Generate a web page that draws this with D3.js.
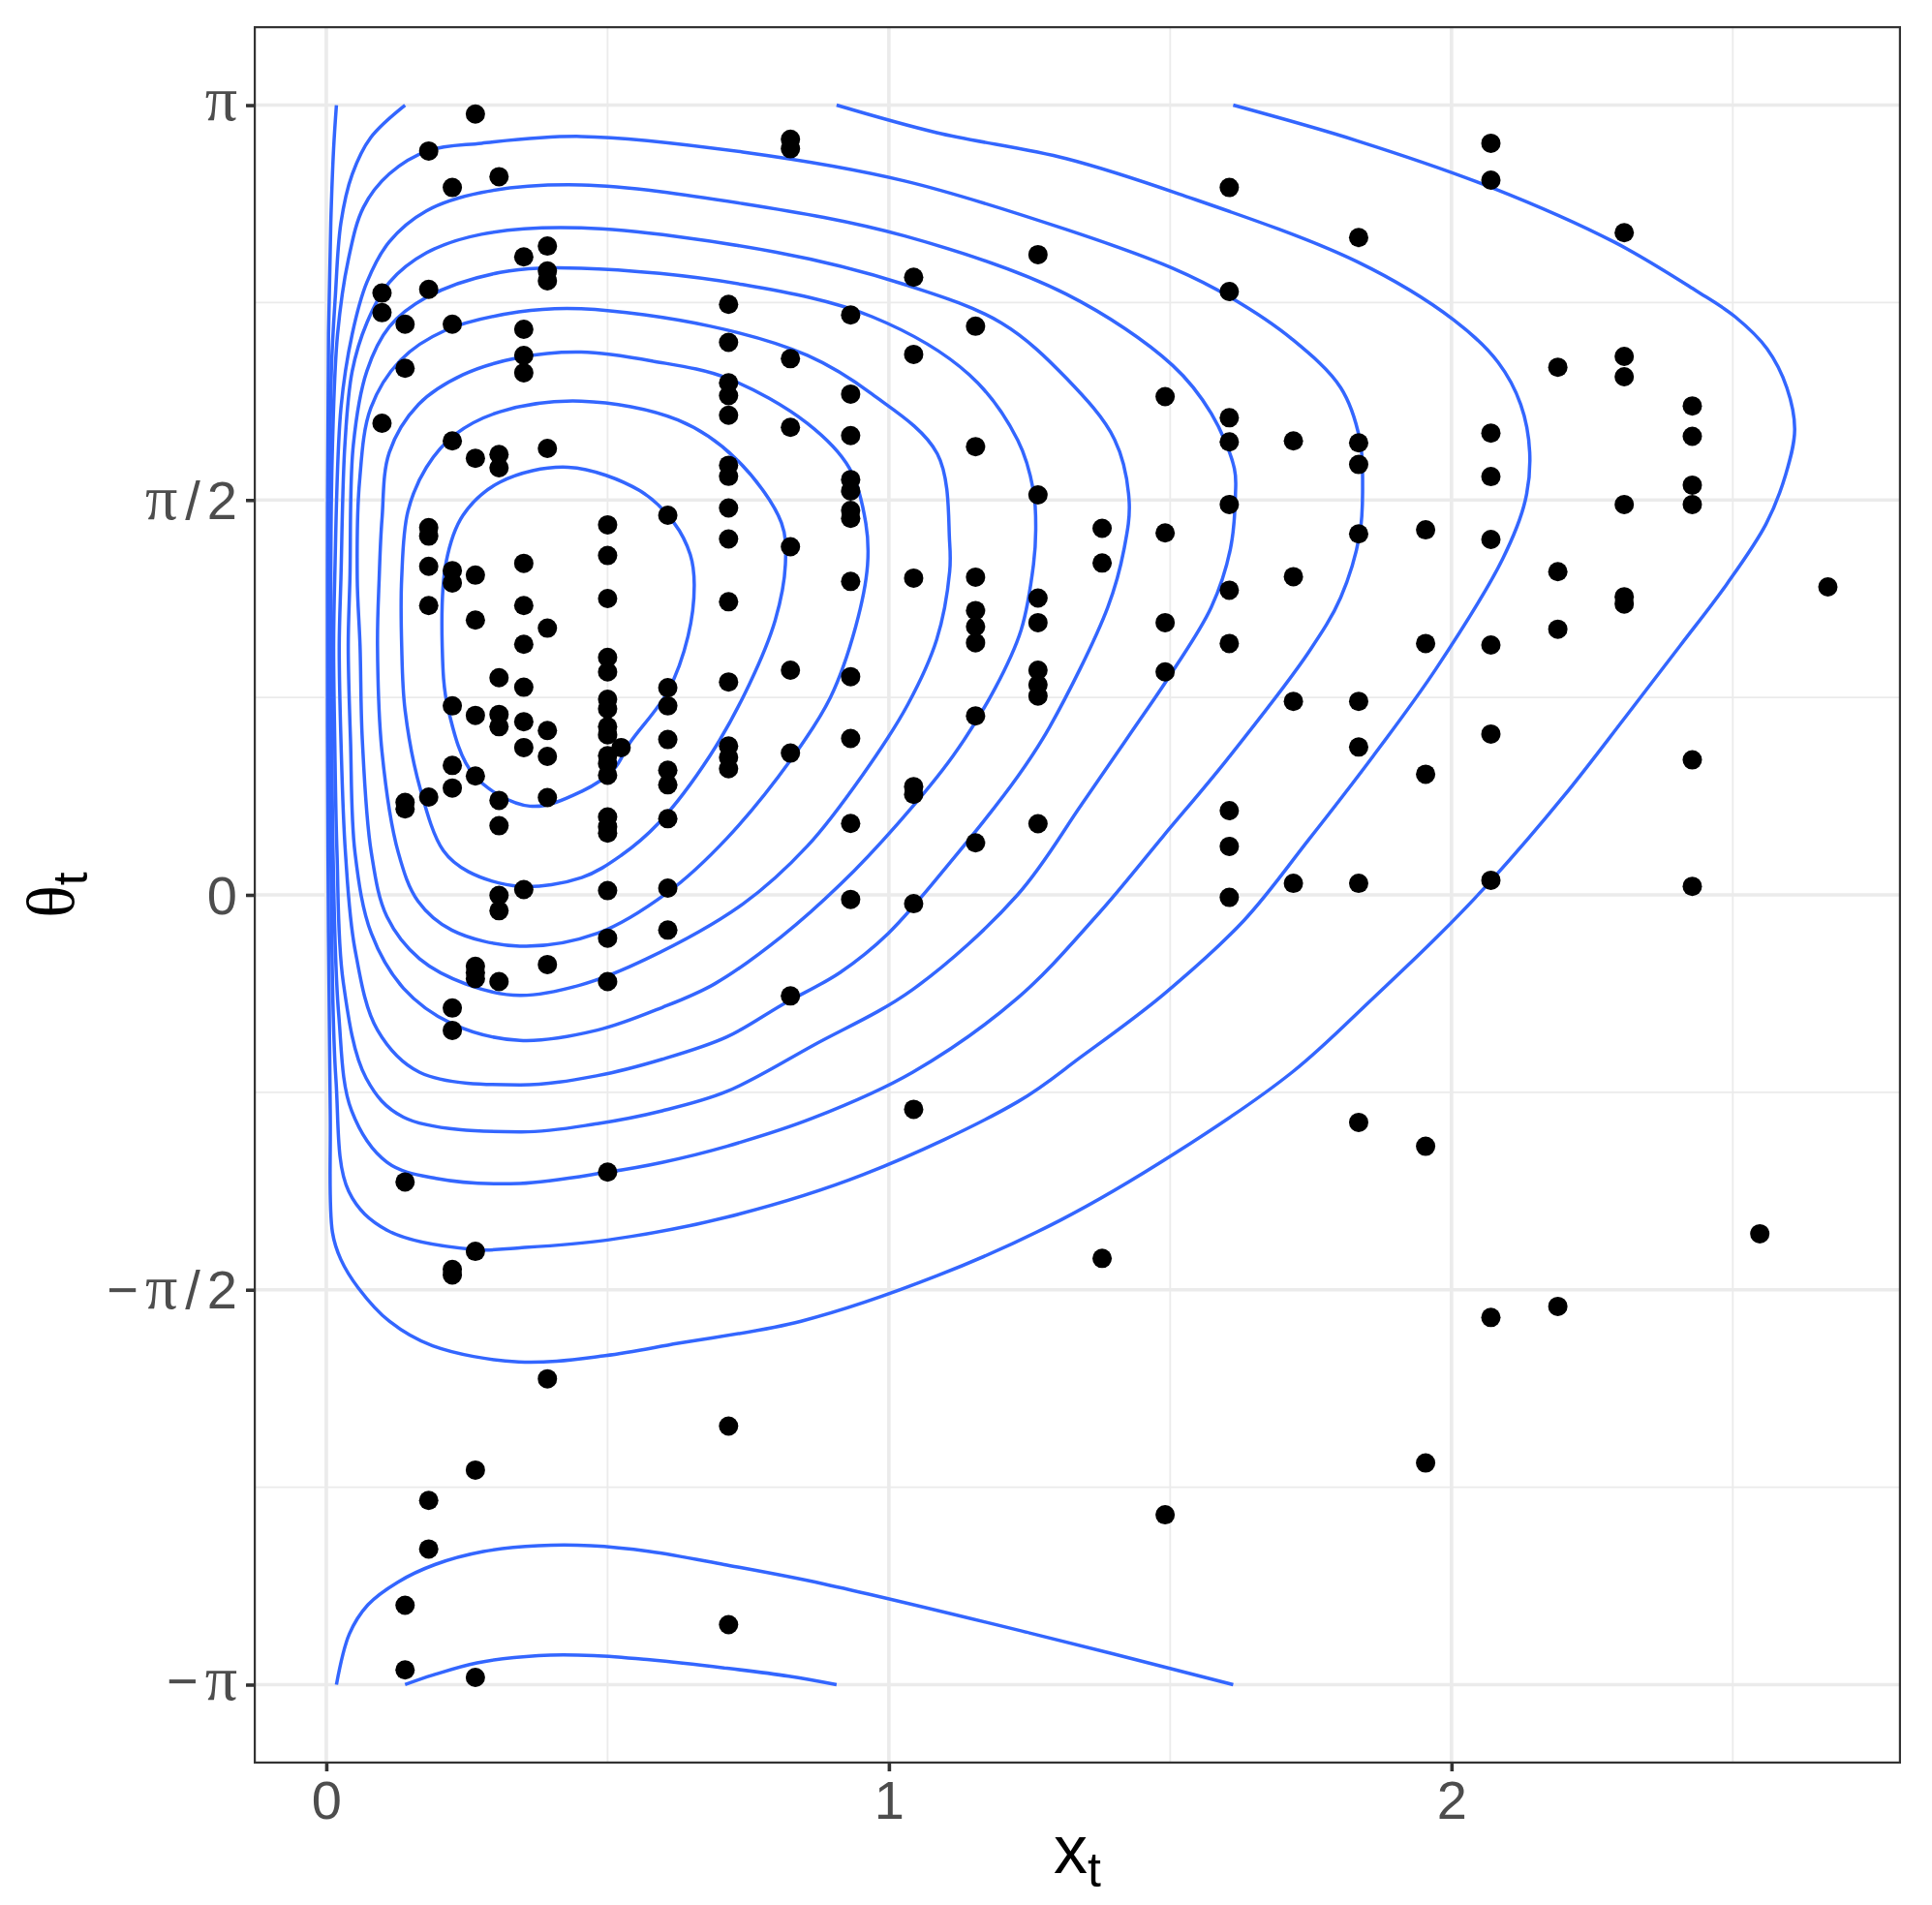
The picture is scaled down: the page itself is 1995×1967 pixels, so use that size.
<!DOCTYPE html>
<html>
<head>
<meta charset="utf-8">
<script src="https://cdn.jsdelivr.net/npm/d3@7"></script>
<style>
  body { margin: 0; background: #ffffff; }
</style>
</head>
<body>
<div id="chart"></div>
<script>
// observed states: one x value per column, theta values (radians) in that column
var pointX = [0.099, 0.140, 0.182, 0.224, 0.265, 0.307, 0.351, 0.393, 0.500, 0.524,
              0.607, 0.715, 0.825, 0.932, 1.044, 1.154, 1.265, 1.379, 1.491, 1.605,
              1.719, 1.835, 1.954, 2.070, 2.189, 2.307, 2.428, 2.548, 2.669];
var pointTheta = [
  [2.394, 2.316, 1.876],
  [2.270, 2.095, 0.368, 0.342, -1.142, -2.826, -3.083],
  [2.959, 2.409, 1.461, 1.427, 1.307, 1.151, 0.389, -2.409, -2.602],
  [2.814, 2.270, 1.806, 1.290, 1.241, 0.752, 0.515, 0.425, -0.450, -0.539, -1.490, -1.512],
  [3.106, 1.737, 1.272, 1.093, 0.714, 0.473, -0.284, -0.309, -0.333, -1.418, -2.288, -3.113],
  [2.857, 1.752, 1.699, 0.864, 0.718, 0.669, 0.376, 0.275, -0.002, -0.063, -0.345],
  [2.538, 2.250, 2.146, 2.077, 1.319, 1.151, 0.997, 0.826, 0.689, 0.586, 0.021],
  [2.581, 2.482, 2.443, 1.776, 1.061, 0.654, 0.551, 0.387, -0.277, -1.925],
  [1.472, 1.350, 1.179, 0.945, 0.887, 0.778, 0.740, 0.669, 0.637, 0.554, 0.522, 0.476,
   0.310, 0.271, 0.246, 0.017, -0.172, -0.345, -1.103],
  [0.586],
  [1.510, 0.824, 0.752, 0.618, 0.496, 0.438, 0.303, 0.027, -0.140],
  [2.349, 2.198, 2.037, 1.986, 1.908, 1.709, 1.665, 1.539, 1.416, 1.166, 0.847, 0.592,
   0.547, 0.502, -2.113, -2.903],
  [3.006, 2.968, 2.133, 1.860, 1.385, 0.894, 0.564, -0.402],
  [2.307, 1.992, 1.827, 1.652, 1.607, 1.529, 1.498, 1.247, 0.868, 0.622, 0.284, -0.018],
  [2.457, 2.150, 1.260, 0.431, 0.400, -0.035, -0.853],
  [2.262, 1.783, 1.264, 1.131, 1.067, 1.003, 0.712, 0.207],
  [2.547, 1.591, 1.181, 1.083, 0.894, 0.836, 0.791, 0.283],
  [1.458, 1.320, -1.446],
  [1.982, 1.440, 1.083, 0.887, -2.466],
  [2.814, 2.400, 1.898, 1.802, 1.553, 1.212, 1.000, 0.335, 0.193, -0.010],
  [1.806, 1.266, 0.770, 0.046],
  [2.615, 1.798, 1.712, 1.436, 0.770, 0.588, 0.046, -0.905],
  [1.452, 1.000, 0.480, -1.000, -2.260],
  [2.990, 2.843, 1.837, 1.664, 1.414, 0.994, 0.640, 0.058, -1.681],
  [2.099, 1.286, 1.057, -1.637],
  [2.634, 2.142, 2.061, 1.553, 1.186, 1.157],
  [1.945, 1.824, 1.630, 1.553, 0.537, 0.034],
  [-1.348],
  [1.225]
];

// closed level curves, innermost first  [x, theta]
var loop1 = [[0.430,1.701],[0.557,1.608],[0.618,1.480],[0.647,1.353],[0.654,1.235],[0.643,1.029],
  [0.607,0.809],[0.539,0.603],[0.511,0.500],[0.454,0.412],[0.362,0.353],[0.263,0.475],[0.217,0.735],
  [0.206,0.990],[0.213,1.324],[0.243,1.510],[0.309,1.642]];
var loop2 = [[0.453,1.964],[0.625,1.889],[0.728,1.735],[0.809,1.480],[0.816,1.314],[0.798,1.093],
  [0.752,0.838],[0.682,0.554],[0.590,0.284],[0.524,0.157],[0.454,0.069],[0.344,0.034],[0.252,0.093],
  [0.208,0.176],[0.167,0.422],[0.140,0.735],[0.134,0.990],[0.134,1.260],[0.145,1.525],[0.178,1.701],
  [0.230,1.833],[0.309,1.922]];
var loop3 = [[0.453,2.159],[0.581,2.123],[0.712,2.056],[0.855,1.876],[0.930,1.697],[0.959,1.478],
  [0.962,1.311],[0.941,1.067],[0.896,0.785],[0.827,0.541],[0.712,0.225],[0.607,0.010],[0.482,-0.153],
  [0.344,-0.204],[0.223,-0.140],[0.163,-0.025],[0.128,0.168],[0.099,0.569],[0.091,0.990],[0.094,1.260],
  [0.099,1.495],[0.112,1.760],[0.164,1.951],[0.243,2.069],[0.342,2.137]];
var loop4 = [[0.453,2.332],[0.683,2.262],[0.855,2.146],[0.970,1.992],[1.086,1.755],[1.108,1.401],
  [1.108,1.286],[1.085,1.016],[1.034,0.759],[0.953,0.476],[0.855,0.194],[0.740,-0.037],[0.568,-0.256],
  [0.453,-0.358],[0.344,-0.400],[0.252,-0.358],[0.166,-0.255],[0.108,-0.088],[0.080,0.168],[0.064,0.618],
  [0.060,0.990],[0.055,1.260],[0.059,1.642],[0.079,1.936],[0.132,2.127],[0.211,2.245],[0.342,2.319]];
var loop5 = [[0.453,2.493],[0.740,2.428],[0.970,2.300],[1.143,2.069],[1.229,1.809],[1.257,1.607],
  [1.261,1.451],[1.257,1.314],[1.235,1.054],[1.189,0.823],[1.114,0.553],[1.016,0.284],[0.913,0.040],
  [0.809,-0.166],[0.691,-0.353],[0.597,-0.448],[0.482,-0.538],[0.344,-0.579],[0.223,-0.512],
  [0.137,-0.371],[0.080,-0.153],[0.051,0.168],[0.043,0.618],[0.039,0.990],[0.042,1.260],[0.048,1.789],
  [0.072,2.083],[0.112,2.260],[0.178,2.377],[0.309,2.476]];
var loop6 = [[0.453,2.653],[0.798,2.557],[1.028,2.428],[1.200,2.275],[1.315,2.056],[1.401,1.812],
  [1.427,1.568],[1.418,1.376],[1.389,1.144],[1.286,0.669],[1.229,0.471],[1.114,0.143],
  [0.999,-0.153],[0.913,-0.309],[0.811,-0.436],[0.712,-0.565],[0.597,-0.654],[0.482,-0.719],
  [0.344,-0.756],[0.166,-0.706],[0.091,-0.538],[0.051,-0.217],[0.034,0.168],[0.026,0.618],[0.023,0.990],
  [0.026,1.260],[0.033,1.789],[0.046,2.083],[0.072,2.275],[0.112,2.436],[0.178,2.554],[0.276,2.628]];
var loop7 = [[0.453,2.824],[0.740,2.750],[1.028,2.621],[1.315,2.390],[1.504,2.107],[1.573,1.915],
  [1.614,1.697],[1.616,1.594],[1.607,1.376],[1.573,1.144],[1.504,0.888],[1.430,0.644],[1.343,0.361],
  [1.229,0.001],[1.042,-0.377],[0.866,-0.598],[0.712,-0.782],[0.597,-0.859],[0.482,-0.910],
  [0.344,-0.943],[0.137,-0.884],[0.071,-0.730],[0.030,-0.345],[0.019,0.168],[0.015,0.618],[0.013,0.990],
  [0.015,1.260],[0.026,1.936],[0.046,2.230],[0.072,2.436],[0.112,2.598],[0.178,2.721],[0.276,2.794]];
var loop8 = [[0.453,3.017],[0.740,2.955],[1.028,2.840],[1.315,2.647],[1.504,2.493],[1.607,2.377],
  [1.717,2.210],[1.803,2.018],[1.837,1.812],[1.842,1.632],[1.837,1.436],[1.803,1.183],[1.746,0.965],
  [1.602,0.541],[1.487,0.232],[1.372,-0.076],[1.229,-0.410],[1.042,-0.706],[0.866,-0.887],
  [0.712,-1.000],[0.597,-1.064],[0.500,-1.103],[0.344,-1.148],[0.195,-1.128],[0.108,-1.064],
  [0.045,-0.859],[0.022,-0.474],[0.012,0.168],[0.010,0.618],[0.009,0.990],[0.008,1.260],[0.011,1.789],
  [0.020,2.230],[0.039,2.525],[0.066,2.735],[0.112,2.868],[0.182,2.961],[0.276,2.990]];

// the two outer levels wrap around theta = +-pi
var outer1 = [[0.140,Math.PI],[0.079,3.013],[0.046,2.866],[0.026,2.674],[0.016,2.379],[0.009,2.084],
  [0.005,1.260],[0.006,0.618],[0.008,0.168],[0.017,-0.730],[0.040,-1.180],[0.108,-1.334],[0.263,-1.411],
  [0.344,-1.404],[0.500,-1.373],[0.712,-1.282],[0.954,-1.113],[1.229,-0.823],[1.343,-0.642],
  [1.487,-0.398],[1.631,-0.102],[1.746,0.219],[1.861,0.553],[1.973,0.901],[2.091,1.337],[2.131,1.568],
  [2.139,1.761],[2.123,1.951],[2.083,2.118],[2.004,2.287],[1.832,2.519],[1.516,2.788],[1.315,2.929],
  [1.085,3.032],[0.907,Math.PI]];
var outer1Low = [[0.140,-Math.PI],[0.189,-3.104],[0.268,-3.055],[0.377,-3.026],[0.476,-3.026],
  [0.575,-3.043],[0.707,-3.075],[0.822,-3.108],[0.907,-Math.PI]];
var outer2 = [[0.018,Math.PI],[0.013,2.969],[0.008,2.674],[0.004,2.232],[0.002,1.260],[0.003,0.168],
  [0.007,-0.853],[0.011,-1.343],[0.026,-1.451],[0.057,-1.564],[0.112,-1.696],[0.189,-1.794],
  [0.342,-1.858],[0.496,-1.833],[0.625,-1.784],[0.844,-1.696],[1.086,-1.515],[1.305,-1.294],
  [1.510,-1.026],[1.717,-0.705],[1.861,-0.410],[1.975,-0.166],[2.071,0.058],[2.200,0.394],[2.309,0.707],
  [2.406,0.990],[2.489,1.235],[2.559,1.475],[2.594,1.672],[2.610,1.851],[2.596,2.018],[2.561,2.172],
  [2.504,2.300],[2.435,2.403],[2.290,2.596],[2.071,2.814],[1.832,3.000],[1.612,Math.PI]];
var outer2Low = [[0.018,-Math.PI],[0.041,-2.940],[0.074,-2.824],[0.127,-2.734],[0.193,-2.664],
  [0.279,-2.612],[0.377,-2.589],[0.470,-2.589],[0.575,-2.612],[0.707,-2.664],[0.884,-2.741],
  [1.250,-2.936],[1.612,-Math.PI]];

// axis breaks and labels
var xBreaks = [0, 1, 2];
var xMinor = [0.5, 1.5, 2.5];
var yBreaks = [-Math.PI, -Math.PI / 2, 0, Math.PI / 2, Math.PI];
var yTickText = ["−π", "−π/2", "0", "π/2", "π"];
var yMinor = [-3 * Math.PI / 4, -Math.PI / 4, Math.PI / 4, 3 * Math.PI / 4];

var svgWidth = 1995, svgHeight = 1967;
var margin = {top: 27, right: 32, bottom: 146, left: 262};
var width = svgWidth - margin.left - margin.right;
var height = svgHeight - margin.top - margin.bottom;

var sans = "'Liberation Sans', Arial, Helvetica, sans-serif";
var serif = "'Liberation Serif', 'DejaVu Serif', serif";
var textGrey = "#4D4D4D";

var svg = d3.select("#chart").append("svg")
  .attr("width", svgWidth)
  .attr("height", svgHeight)
  .style("display", "block")
  .style("background", "#ffffff");

var chartGroup = svg.append("g")
  .attr("transform", `translate(${margin.left}, ${margin.top})`);

var xScale = d3.scaleLinear().domain([-0.129, 2.799]).range([0, width]);
var yScale = d3.scaleLinear().domain([-1.1 * Math.PI, 1.1 * Math.PI]).range([height, 0]);

chartGroup.append("defs").append("clipPath").attr("id", "panel")
  .append("rect").attr("width", width).attr("height", height);

// grid lines
chartGroup.append("g").selectAll("line").data(xMinor).enter().append("line")
  .attr("x1", d => xScale(d)).attr("x2", d => xScale(d)).attr("y1", 0).attr("y2", height)
  .attr("stroke", "#EBEBEB").attr("stroke-width", 1.8);
chartGroup.append("g").selectAll("line").data(yMinor).enter().append("line")
  .attr("x1", 0).attr("x2", width).attr("y1", d => yScale(d)).attr("y2", d => yScale(d))
  .attr("stroke", "#EBEBEB").attr("stroke-width", 1.8);
chartGroup.append("g").selectAll("line").data(xBreaks).enter().append("line")
  .attr("x1", d => xScale(d)).attr("x2", d => xScale(d)).attr("y1", 0).attr("y2", height)
  .attr("stroke", "#EBEBEB").attr("stroke-width", 3.6);
chartGroup.append("g").selectAll("line").data(yBreaks).enter().append("line")
  .attr("x1", 0).attr("x2", width).attr("y1", d => yScale(d)).attr("y2", d => yScale(d))
  .attr("stroke", "#EBEBEB").attr("stroke-width", 3.6);

// level curves
var openLine = d3.line()
  .x(d => xScale(d[0])).y(d => yScale(d[1]))
  .curve(d3.curveCatmullRom.alpha(0.5));
var closedLine = d3.line()
  .x(d => xScale(d[0])).y(d => yScale(d[1]))
  .curve(d3.curveCatmullRomClosed.alpha(0.5));

var curves = chartGroup.append("g").attr("clip-path", "url(#panel)")
  .attr("fill", "none").attr("stroke", "#3366FF").attr("stroke-width", 3.5);
curves.selectAll("path.loop")
  .data([loop1, loop2, loop3, loop4, loop5, loop6, loop7, loop8])
  .enter().append("path").attr("class", "loop").attr("d", closedLine);
curves.selectAll("path.open")
  .data([outer1, outer1Low, outer2, outer2Low])
  .enter().append("path").attr("class", "open").attr("d", openLine);

// points
var points = [];
pointX.forEach(function(x, i) {
  pointTheta[i].forEach(function(t) { points.push({x: x, theta: t}); });
});
chartGroup.append("g").selectAll("circle").data(points).enter().append("circle")
  .attr("cx", d => xScale(d.x))
  .attr("cy", d => yScale(d.theta))
  .attr("r", 10)
  .attr("fill", "#000000");

// panel border
chartGroup.append("rect")
  .attr("x", 1.1).attr("y", 1.1)
  .attr("width", width - 2.2).attr("height", height - 2.2)
  .attr("fill", "none").attr("stroke", "#333333").attr("stroke-width", 2.2);

// x axis
var bottomAxis = d3.axisBottom(xScale).tickValues(xBreaks).tickFormat(d3.format("d"))
  .tickSize(8).tickPadding(9);
var xAxis = chartGroup.append("g")
  .attr("transform", `translate(0, ${height})`)
  .call(bottomAxis);
xAxis.select(".domain").remove();
xAxis.selectAll(".tick line").attr("stroke", "#333333").attr("stroke-width", 3.6);
xAxis.selectAll(".tick text")
  .attr("fill", textGrey).attr("font-size", 56).attr("font-family", sans);

// y axis, labels built from pieces so pi can use a symbol-like face
var leftAxis = d3.axisLeft(yScale).tickValues(yBreaks).tickFormat("").tickSize(8);
var yAxis = chartGroup.append("g").call(leftAxis);
yAxis.select(".domain").remove();
yAxis.selectAll(".tick line").attr("stroke", "#333333").attr("stroke-width", 3.6);
yAxis.selectAll(".tick text").remove();
yAxis.selectAll(".tick").each(function(d, i) {
  var label = yTickText[i];
  var hasDigit = /[0-9]/.test(label);
  var t = d3.select(this).append("text")
    .attr("x", -17)
    .attr("dy", hasDigit ? "0.34em" : "0.27em")
    .attr("text-anchor", "end")
    .attr("fill", textGrey)
    .attr("font-size", 56)
    .attr("font-family", sans);
  Array.from(label).forEach(function(ch, k) {
    var s = t.append("tspan").text(ch);
    if (ch === "π") {
      s.attr("font-family", serif).attr("font-size", 66);
      if (k > 0) s.attr("dx", 7);
    }
    if (ch === "/") s.attr("dx", 8).attr("font-weight", 300);
    if (ch === "2") s.attr("dx", 7);
  });
});

// axis titles
var xTitle = svg.append("text")
  .attr("x", margin.left + width / 2)
  .attr("y", 1934)
  .attr("text-anchor", "middle")
  .attr("fill", "#000000")
  .attr("font-family", sans)
  .attr("font-size", 70);
xTitle.append("tspan").text("x");
xTitle.append("tspan").attr("font-size", 50).attr("dy", 14).text("t");

var yTitle = svg.append("text")
  .attr("transform", `translate(76, ${margin.top + height / 2}) rotate(-90)`)
  .attr("text-anchor", "middle")
  .attr("fill", "#000000")
  .attr("font-family", sans)
  .attr("font-size", 70);
yTitle.append("tspan").attr("font-family", serif).text("θ");
yTitle.append("tspan").attr("font-size", 50).attr("dy", 14).text("t");
</script>
</body>
</html>
